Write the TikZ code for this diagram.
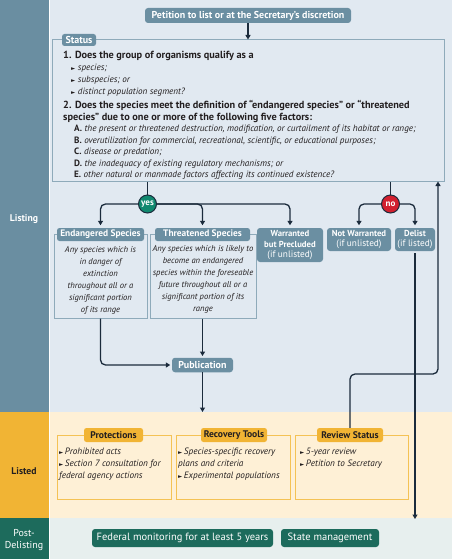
\documentclass[tikz,border=0pt]{standalone}
\usepackage{fontspec}
\setmainfont{PT Sans}
\newfontfamily\symfont{DejaVu Sans}
\usetikzlibrary{arrows.meta,calc}
\definecolor{bandblue}{HTML}{6A8EA1}
\definecolor{bgblue}{HTML}{E1E9F1}
\definecolor{boxblue}{HTML}{6B8FA2}
\definecolor{lineblue}{HTML}{8EAABA}
\definecolor{bandyellow}{HTML}{F1B434}
\definecolor{bgyellow}{HTML}{FEF0D6}
\definecolor{lineyellow}{HTML}{F4C255}
\definecolor{bandgreen}{HTML}{1D6B5C}
\definecolor{bggreen}{HTML}{E7EFEE}
\definecolor{navy}{HTML}{1B2B3C}
\definecolor{yesgreen}{HTML}{11896F}
\definecolor{nored}{HTML}{D2202F}
\definecolor{txt}{HTML}{231F20}
\newcommand{\tri}{{\symfont\fontsize{5.5}{6}\selectfont ►}}
\newcommand{\tabbold}[1]{{\bfseries\fontsize{8.7}{10.5}\selectfont #1}}
\tikzset{
  ln/.style={draw=navy, line width=1.3pt},
  arr/.style={draw=navy, line width=1.3pt, -{Triangle[length=4.5pt,width=5pt]}},
  bluetab/.style={fill=boxblue, rounded corners=2.5pt, text=white, inner sep=0pt, font=\bfseries\fontsize{10}{11}\selectfont},
  blueframe/.style={draw=lineblue, line width=1pt, inner sep=0pt},
  yellowframe/.style={draw=lineyellow, line width=1pt, inner sep=0pt},
  yellowtab/.style={fill=bandyellow, rounded corners=2.5pt, text=txt, inner sep=0pt, minimum height=14pt, font=\bfseries\fontsize{9.6}{11}\selectfont},
  greenbox/.style={fill=bandgreen, rounded corners=3pt, text=white, inner sep=0pt, minimum height=18pt, font=\fontsize{10.5}{12}\selectfont},
  qline/.style={anchor=base west, inner sep=0pt, text=txt, font=\bfseries\fontsize{10.3}{12}\selectfont},
  bline/.style={anchor=base west, inner sep=0pt, text=txt, font=\itshape\fontsize{9.1}{10}\selectfont},
  fline/.style={anchor=base west, inner sep=0pt, text=txt, font=\itshape\fontsize{9.15}{10}\selectfont},
  desc/.style={inner sep=0pt, text=txt, align=center, font=\itshape\fontsize{8.55}{11.9}\selectfont},
  litem/.style={inner sep=0pt, text=txt, align=left, anchor=north west, font=\itshape\fontsize{9.2}{12.3}\selectfont},
  sidelabel/.style={inner sep=0pt, align=center, font=\bfseries\fontsize{9.7}{11}\selectfont},
  decision/.style={circle, draw=navy, line width=1pt, minimum size=18pt, inner sep=0pt, text=white, font=\bfseries\fontsize{9}{9}\selectfont},
}
\begin{document}
\begin{tikzpicture}[x=1pt,y=-1pt]
\useasboundingbox (0,0) rectangle (452,559);
% backgrounds
\fill[white] (0,0) rectangle (452,559);
\fill[bandblue] (0,0) rectangle (48.5,412);
\fill[bgblue] (50,0) rectangle (452,412);
\fill[bandyellow] (0,412) rectangle (48.5,518);
\fill[bgyellow] (50,412) rectangle (452,518);
\fill[bandgreen] (0,518) rectangle (48.5,559);
\fill[bggreen] (50,518) rectangle (452,559);

% side labels
\node[sidelabel, text=white] (lblListing) at (24,219) {Listing};
\node[sidelabel, text=txt] (lblListed) at (24,471) {Listed};
\node[sidelabel, text=white, font=\fontsize{10}{11.5}\selectfont] (lblPost) at (24,540) {Post-\\Delisting};

% petition
\node[bluetab, rounded corners=3pt, minimum width=206pt, minimum height=15pt] (pet) at (248,15.5) {Petition to list or at the Secretary’s discretion};

% status box
\node[blueframe, minimum width=392pt, minimum height=141pt] (status) at (248.5,110.5) {};
\node[bluetab, minimum width=34pt, minimum height=12pt] (statustab) at (79,40) {Status};
\draw[arr] (pet.south) -- (pet.south |- status.north);

\node[qline] (q1) at (63,58.5) {1. Does the group of organisms qualify as a};
\node[bline] (b1) at (71,71) {\tri\hspace{2.5pt}species;};
\node[bline] (b2) at (71,83) {\tri\hspace{2.5pt}subspecies; or};
\node[bline] (b3) at (71,95) {\tri\hspace{2.5pt}distinct population segment?};
\node[qline] (q2a) at (63,109) {2. Does the species meet the definition of “endangered species” or “threatened};
\node[qline] (q2b) at (63,120.5) {species” due to one or more of the following five factors:};
\node[fline] (fA) at (74,131.5) {{\upshape\bfseries A.} the present or threatened destruction, modification, or curtailment of its habitat or range;};
\node[fline] (fB) at (74,143) {{\upshape\bfseries B.} overutilization for commercial, recreational, scientific, or educational purposes;};
\node[fline] (fC) at (74,154.5) {{\upshape\bfseries C.} disease or predation;};
\node[fline] (fD) at (74,166) {{\upshape\bfseries D.} the inadequacy of existing regulatory mechanisms; or};
\node[fline] (fE) at (74,177.5) {{\upshape\bfseries E.} other natural or manmade factors affecting its continued existence?};

% decisions
\node[decision, fill=yesgreen] (yes) at (147.5,204) {yes};
\node[decision, fill=nored] (no) at (390.5,204) {no};
\draw[ln] (yes.north |- status.south) -- (yes.north);
\draw[ln] (no.north |- status.south) -- (no.north);

% endangered
\node[blueframe, minimum width=93pt, minimum height=84pt] (endbox) at (100.5,276) {};
\node[bluetab, minimum width=87pt, minimum height=13pt, font=\bfseries\fontsize{9.4}{10}\selectfont] (endtab) at (100.5,234.5) {Endangered Species};
\node[desc] (endtxt) at (100.5,280.5) {Any species which is\\in danger of\\extinction\\throughout all or a\\significant portion\\of its range};
% threatened
\node[blueframe, minimum width=106pt, minimum height=84pt] (thrbox) at (203,276) {};
\node[bluetab, minimum width=95pt, minimum height=13pt, font=\bfseries\fontsize{9.4}{10}\selectfont] (thrtab) at (202.5,234.5) {Threatened Species};
\node[desc] (thrtxt) at (203,279.5) {Any species which is likely to\\become an endangered\\species within the foreseable\\future throughout all or a\\significant portion of its\\range};
% warranted
\node[bluetab, rounded corners=3pt, minimum width=66pt, minimum height=34pt, align=center, font=\fontsize{9.3}{10.5}\selectfont] (warr) at (290,245) {\tabbold{Warranted}\\\tabbold{but Precluded}\\(if unlisted)};
% not warranted
\node[bluetab, rounded corners=3pt, minimum width=64pt, minimum height=23pt, align=center, font=\fontsize{9.3}{10.5}\selectfont] (notw) at (359,239.5) {\tabbold{Not Warranted}\\(if unlisted)};
% delist
\node[bluetab, rounded corners=3pt, minimum width=40pt, minimum height=23pt, align=center, font=\fontsize{9.3}{10.5}\selectfont] (delist) at (415,239.5) {\tabbold{Delist}\\(if listed)};

\draw[arr, rounded corners=5pt, shorten >=2.5pt] (yes.west) -| (endtab.north);
\draw[arr, rounded corners=5pt, shorten >=2.5pt] (yes.east) -| (thrtab.north);
\draw[arr, rounded corners=5pt, shorten >=2.5pt] (yes.east) -| (warr.north);
\draw[arr, rounded corners=5pt, shorten >=2.5pt] (no.west) -| (notw.north);
\draw[arr, rounded corners=5pt, shorten >=2.5pt] (no.east) -| (delist.north);

% publication
\node[bluetab, rounded corners=3pt, minimum width=61pt, minimum height=14.5pt] (pub) at (202.5,365) {Publication};
\draw[arr, shorten >=1.5pt] (thrbox.south -| pub.north) -- (pub.north);
\draw[arr, rounded corners=5pt, shorten >=1.5pt] (endbox.south) |- (pub.west);
\coordinate (pubend) at (202.5,412);
\draw[arr] (pub.south) -- (pubend);

% listed boxes
\node[yellowframe, minimum width=114pt, minimum height=64pt] (protbox) at (114,467) {};
\node[yellowtab, minimum width=59pt] (prottab) at (113.5,435) {Protections};
\node[litem] (prottxt) at (59,447.5) {\tri\,Prohibited acts\\\tri\,Section 7 consultation for\\federal agency actions};

\node[yellowframe, minimum width=114pt, minimum height=64pt] (recbox) at (233,467) {};
\node[yellowtab, minimum width=66pt] (rectab) at (234,435) {Recovery Tools};
\node[litem] (rectxt) at (178,447.5) {\tri\,Species-specific recovery\\plans and criteria\\\tri\,Experimental populations};

\node[yellowframe, minimum width=113pt, minimum height=64pt] (revbox) at (351.5,467) {};
\node[yellowtab, minimum width=66pt] (revtab) at (350,435) {Review Status};
\node[litem] (revtxt) at (300,447.5) {\tri\,5-year review\\\tri\,Petition to Secretary};

% return line from review status to status box
\coordinate (ret) at (438,374);
\draw[arr, rounded corners=5pt] (revtab.north) |- (ret) -- (ret |- status.south);

% delist line
\coordinate (dend) at (415,519);
\draw[arr] (delist.south) ++(0,2) -- (dend);

% post delisting
\node[greenbox, minimum width=181pt] (fed) at (182.5,538) {Federal monitoring for at least 5 years};
\node[greenbox, minimum width=98pt] (state) at (330,538) {State management};
\end{tikzpicture}
\end{document}
